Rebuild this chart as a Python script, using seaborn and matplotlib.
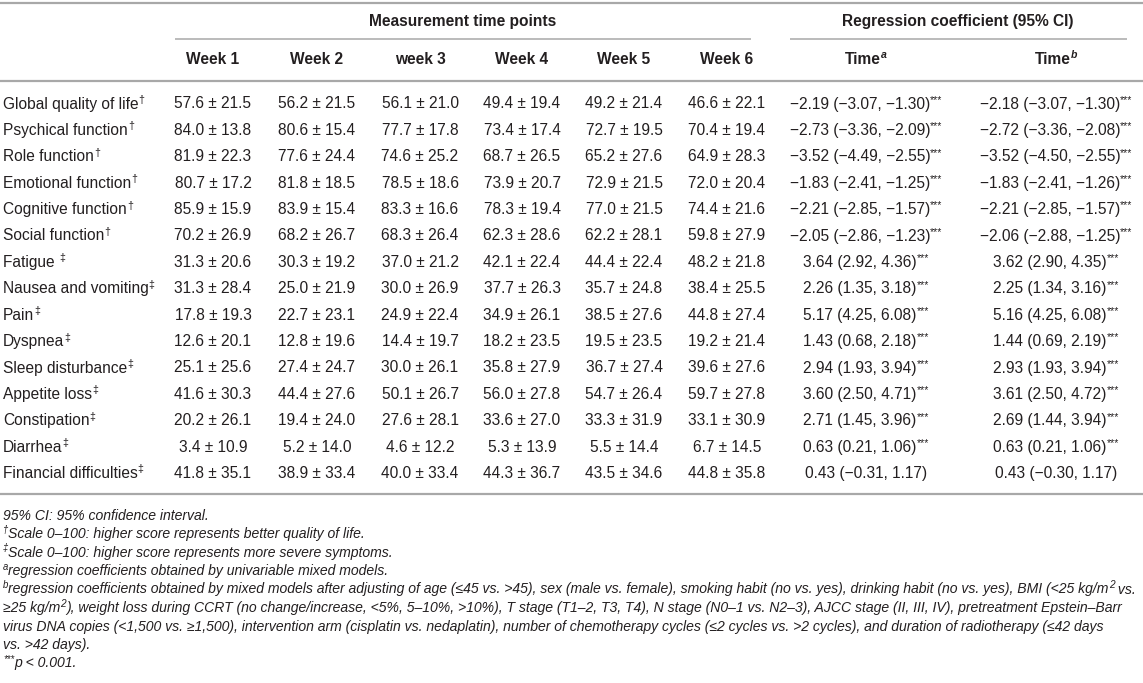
import matplotlib
matplotlib.use("Agg")
import matplotlib.pyplot as plt
import seaborn as sns

sns.set_theme(style="white")
plt.rcParams['font.family'] = ['Liberation Sans', 'DejaVu Sans']

# ---------------- data ----------------
row_labels = ["Global quality of life", "Psychical function", "Role function",
              "Emotional function", "Cognitive function", "Social function",
              "Fatigue ", "Nausea and vomiting", "Pain", "Dyspnea",
              "Sleep disturbance", "Appetite loss", "Constipation", "Diarrhea",
              "Financial difficulties"]
row_marks = ["†"] * 6 + ["‡"] * 9

week_labels = ["Week 1", "Week 2", "week 3", "Week 4", "Week 5", "Week 6"]

w1_mean = [57.6, 84.0, 81.9, 80.7, 85.9, 70.2, 31.3, 31.3, 17.8, 12.6, 25.1, 41.6, 20.2, 3.4, 41.8]
w1_sd   = [21.5, 13.8, 22.3, 17.2, 15.9, 26.9, 20.6, 28.4, 19.3, 20.1, 25.6, 30.3, 26.1, 10.9, 35.1]
w2_mean = [56.2, 80.6, 77.6, 81.8, 83.9, 68.2, 30.3, 25.0, 22.7, 12.8, 27.4, 44.4, 19.4, 5.2, 38.9]
w2_sd   = [21.5, 15.4, 24.4, 18.5, 15.4, 26.7, 19.2, 21.9, 23.1, 19.6, 24.7, 27.6, 24.0, 14.0, 33.4]
w3_mean = [56.1, 77.7, 74.6, 78.5, 83.3, 68.3, 37.0, 30.0, 24.9, 14.4, 30.0, 50.1, 27.6, 4.6, 40.0]
w3_sd   = [21.0, 17.8, 25.2, 18.6, 16.6, 26.4, 21.2, 26.9, 22.4, 19.7, 26.1, 26.7, 28.1, 12.2, 33.4]
w4_mean = [49.4, 73.4, 68.7, 73.9, 78.3, 62.3, 42.1, 37.7, 34.9, 18.2, 35.8, 56.0, 33.6, 5.3, 44.3]
w4_sd   = [19.4, 17.4, 26.5, 20.7, 19.4, 28.6, 22.4, 26.3, 26.1, 23.5, 27.9, 27.8, 27.0, 13.9, 36.7]
w5_mean = [49.2, 72.7, 65.2, 72.9, 77.0, 62.2, 44.4, 35.7, 38.5, 19.5, 36.7, 54.7, 33.3, 5.5, 43.5]
w5_sd   = [21.4, 19.5, 27.6, 21.5, 21.5, 28.1, 22.4, 24.8, 27.6, 23.5, 27.4, 26.4, 31.9, 14.4, 34.6]
w6_mean = [46.6, 70.4, 64.9, 72.0, 74.4, 59.8, 48.2, 38.4, 44.8, 19.2, 39.6, 59.7, 33.1, 6.7, 44.8]
w6_sd   = [22.1, 19.4, 28.3, 20.4, 21.6, 27.9, 21.8, 25.5, 27.4, 21.4, 27.6, 27.8, 30.9, 14.5, 35.8]

ta_est = [-2.19, -2.73, -3.52, -1.83, -2.21, -2.05, 3.64, 2.26, 5.17, 1.43, 2.94, 3.60, 2.71, 0.63, 0.43]
ta_lo  = [-3.07, -3.36, -4.49, -2.41, -2.85, -2.86, 2.92, 1.35, 4.25, 0.68, 1.93, 2.50, 1.45, 0.21, -0.31]
ta_hi  = [-1.30, -2.09, -2.55, -1.25, -1.57, -1.23, 4.36, 3.18, 6.08, 2.18, 3.94, 4.71, 3.96, 1.06, 1.17]
tb_est = [-2.18, -2.72, -3.52, -1.83, -2.21, -2.06, 3.62, 2.25, 5.16, 1.44, 2.93, 3.61, 2.69, 0.63, 0.43]
tb_lo  = [-3.07, -3.36, -4.50, -2.41, -2.85, -2.88, 2.90, 1.34, 4.25, 0.69, 1.93, 2.50, 1.44, 0.21, -0.30]
tb_hi  = [-1.30, -2.08, -2.55, -1.26, -1.57, -1.25, 4.35, 3.16, 6.08, 2.19, 3.94, 4.72, 3.94, 1.06, 1.17]
signif = ["***"] * 14 + [""]

footnotes = [
    ("", "95% CI: 95% confidence interval."),
    ("†", "Scale 0–100: higher score represents better quality of life."),
    ("‡", "Scale 0–100: higher score represents more severe symptoms."),
    ("a", "regression coefficients obtained by univariable mixed models."),
    ("b", "regression coefficients obtained by mixed models after adjusting of age (≤45 vs. >45), sex (male vs. female), smoking habit (no vs. yes), drinking habit (no vs. yes), BMI (<25 kg/m"),
    ("", "≥25 kg/m"),
    ("", "virus DNA copies (<1,500 vs. ≥1,500), intervention arm (cisplatin vs. nedaplatin), number of chemotherapy cycles (≤2 cycles vs. >2 cycles), and duration of radiotherapy (≤42 days"),
    ("", "vs. >42 days)."),
    ("***", "p < 0.001."),
]

# ---------------- layout ----------------
W, H = 1143, 683
fig = plt.figure(figsize=(W / 100, H / 100), dpi=100)
ax = fig.add_axes([0, 0, 1, 1])
ax.set_xlim(0, W)
ax.set_ylim(H, 0)
ax.axis("off")
renderer = fig.canvas.get_renderer()

TXT = "#231f20"
LINE = "#a8a8a8"
FS = 11.2
SUP = 7.6
FN = 10.1


def width(t):
    return t.get_window_extent(renderer).width


def put(x, y, base, sup="", ha="center", size=FS, weight="normal", style="normal",
        supstyle=None, sup_first=False, supsize=None):
    """Draw text with an optional superscript, y is the baseline."""
    supsize = supsize or SUP * size / FS
    supstyle = supstyle or style
    tb = ax.text(0, y, base, fontsize=size, fontweight=weight, fontstyle=style,
                 color=TXT, va="baseline", ha="left")
    ts = None
    if sup:
        ts = ax.text(0, y - size * 0.5, sup, fontsize=supsize, fontweight=weight,
                     fontstyle=supstyle, color=TXT, va="baseline", ha="left")
    wb = width(tb)
    ws = width(ts) if ts is not None else 0
    tot = wb + ws
    x0 = {"center": x - tot / 2, "left": x, "right": x - tot}[ha]
    if sup_first:
        if ts is not None:
            ts.set_x(x0)
        tb.set_x(x0 + ws)
    else:
        tb.set_x(x0)
        if ts is not None:
            ts.set_x(x0 + wb)
    return tb


def coef(e, lo, hi):
    f = lambda v: f"{v:.2f}".replace("-", "−")
    return f"{f(e)} ({f(lo)}, {f(hi)})"


def tail(tb, yb, sup, rest):
    xe = tb.get_window_extent(renderer).x1
    s2 = ax.text(xe, yb - FN * 0.5, sup, fontsize=FN * 0.72, fontstyle="italic",
                 color=TXT, va="baseline", ha="left")
    xe2 = s2.get_window_extent(renderer).x1
    ax.text(xe2, yb, rest, fontsize=FN, fontstyle="italic", color=TXT,
            va="baseline", ha="left")


week_x = [213, 317, 420, 522, 624, 727]
ta_x, tb_x = 866, 1056
label_x = 3

# rules
ax.plot([0, W], [3, 3], color=LINE, lw=1.6, solid_capstyle="butt")
ax.plot([175, 751], [39, 39], color=LINE, lw=1.1, solid_capstyle="butt")
ax.plot([790, 1127], [39, 39], color=LINE, lw=1.1, solid_capstyle="butt")
ax.plot([0, W], [81, 81], color=LINE, lw=1.6, solid_capstyle="butt")
ax.plot([0, W], [494, 494], color=LINE, lw=1.6, solid_capstyle="butt")

# headers
put(463, 26, "Measurement time points", weight="bold")
put(958, 26, "Regression coefficient (95% CI)", weight="bold")
for x, lab in zip(week_x, week_labels):
    put(x, 64, lab, weight="bold")
put(ta_x, 64, "Time", "a", weight="bold", supstyle="italic")
put(tb_x, 64, "Time", "b", weight="bold", supstyle="italic")

# body
means = [w1_mean, w2_mean, w3_mean, w4_mean, w5_mean, w6_mean]
sds = [w1_sd, w2_sd, w3_sd, w4_sd, w5_sd, w6_sd]
y0, dy = 103, 26.4
for i, lab in enumerate(row_labels):
    yb = y0 + i * dy + 5.5
    put(label_x, yb, lab, row_marks[i], ha="left")
    for j in range(6):
        put(week_x[j], yb, f"{means[j][i]:.1f} ± {sds[j][i]:.1f}")
    put(ta_x, yb, coef(ta_est[i], ta_lo[i], ta_hi[i]), signif[i])
    put(tb_x, yb, coef(tb_est[i], tb_lo[i], tb_hi[i]), signif[i])

# footnotes
fy0, fdy = 515, 18.5
for k, (mark, text) in enumerate(footnotes):
    yb = fy0 + k * fdy + 4.5
    if k == 4:
        tb = put(label_x, yb, text, mark, ha="left", size=FN, style="italic", sup_first=True)
        tail(tb, yb, "2", " vs.")
    elif k == 5:
        tb = ax.text(label_x, yb, text, fontsize=FN, fontstyle="italic", color=TXT,
                     va="baseline", ha="left")
        tail(tb, yb, "2", "), weight loss during CCRT (no change/increase, <5%, 5–10%, >10%), "
             "T stage (T1–2, T3, T4), N stage (N0–1 vs. N2–3), AJCC stage (II, III, IV), "
             "pretreatment Epstein–Barr")
    else:
        put(label_x, yb, text, mark, ha="left", size=FN, style="italic", sup_first=True)

fig.savefig("out.png", dpi=100)
